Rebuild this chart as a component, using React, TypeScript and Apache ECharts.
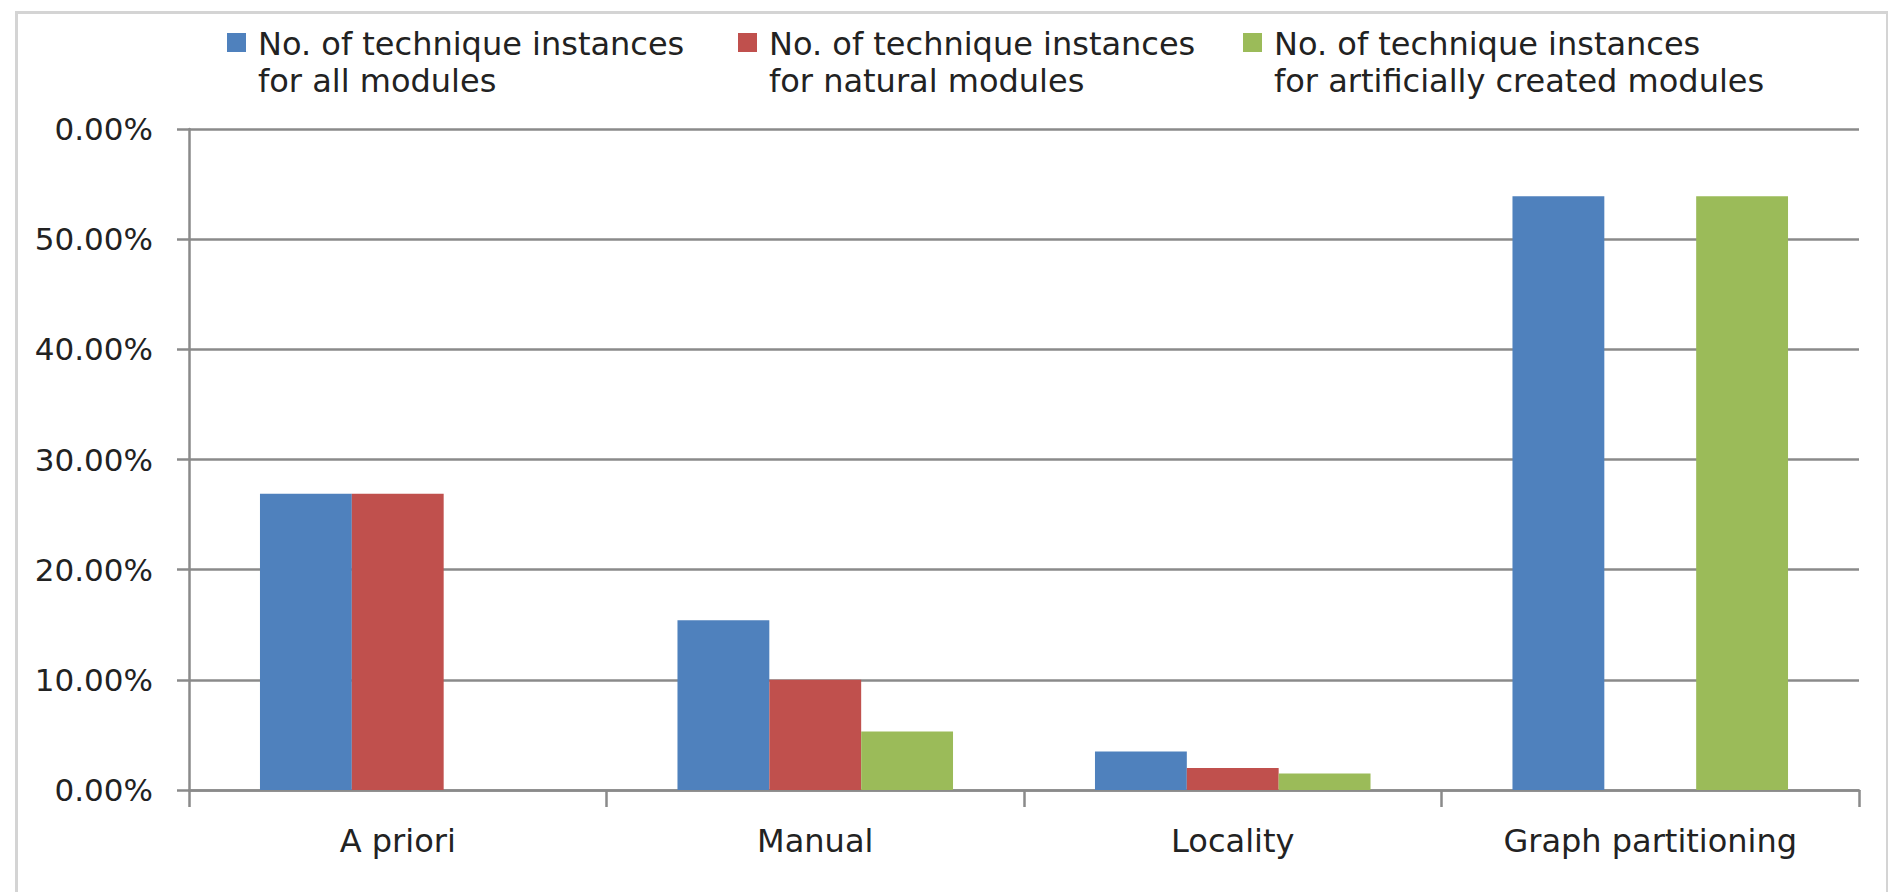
import React, { useEffect, useRef } from "react";
import * as echarts from "echarts";

// Share of technique instances per decomposition approach (percent)
const categories = ["A priori", "Manual", "Locality", "Graph partitioning"];
const allModules = [26.9, 15.4, 3.5, 53.9];
const naturalModules = [26.9, 10.0, 2.0, 0];
const artificialModules = [0, 5.3, 1.5, 53.9];

const seriesNames = [
  "No. of technique instances for all modules",
  "No. of technique instances for natural modules",
  "No. of technique instances for artificially created modules",
];
const legendLines = [
  ["No. of technique instances", "for all modules"],
  ["No. of technique instances", "for natural modules"],
  ["No. of technique instances", "for artificially created modules"],
];

// Value-axis tick labels, one per 10% step from the bottom
const yTickLabels = ["0.00%", "10.00%", "20.00%", "30.00%", "40.00%", "50.00%", "0.00%"];

const COLORS = ["#4F81BD", "#C0504D", "#9BBB59"];
const FONT = "DejaVu Sans";
const TEXT = "#222222";
const AXIS = "#8a8a8a";
const LEGEND_X = [227, 738, 1243];

export default function App() {
  const ref = useRef<HTMLDivElement>(null);

  useEffect(() => {
    document.body.style.margin = "0";
    const chart = echarts.init(ref.current!, null, { renderer: "svg" });

    const legendGraphics = legendLines.map((lines, i) => ({
      type: "group",
      left: LEGEND_X[i],
      top: 25,
      children: [
        {
          type: "rect",
          shape: { x: 0, y: 8, width: 19, height: 19 },
          style: { fill: COLORS[i] },
        },
        {
          type: "text",
          x: 31,
          y: 0,
          style: {
            text: lines.join("\n"),
            fontFamily: FONT,
            fontSize: 32,
            lineHeight: 37,
            fill: TEXT,
            verticalAlign: "top",
          },
        },
      ],
    }));

    chart.setOption({
      animation: false,
      backgroundColor: "#ffffff",
      graphic: [
        {
          type: "rect",
          left: 14,
          top: 10,
          shape: { x: 0, y: 0, width: 1871, height: 900 },
          style: { fill: "none", stroke: "#d4d4d4", lineWidth: 3 },
          silent: true,
        },
        ...legendGraphics,
      ],
      grid: { left: 189, right: 29, top: 129, bottom: 102, containLabel: false },
      xAxis: {
        type: "category",
        data: categories,
        axisLine: { show: true, lineStyle: { color: AXIS, width: 2.5 } },
        axisTick: { show: true, length: 17, interval: 0, lineStyle: { color: AXIS, width: 2.5 } },
        axisLabel: {
          interval: 0,
          margin: 35,
          fontFamily: FONT,
          fontSize: 32,
          color: TEXT,
        },
      },
      yAxis: {
        type: "value",
        min: 0,
        max: 60,
        interval: 10,
        axisLine: { show: true, lineStyle: { color: AXIS, width: 2.5 } },
        axisTick: { show: true, length: 12, lineStyle: { color: AXIS, width: 2.5 } },
        splitLine: { show: true, lineStyle: { color: AXIS, width: 2.5 } },
        axisLabel: {
          margin: 36,
          fontFamily: FONT,
          fontSize: 31,
          color: TEXT,
          formatter: (v: number) => yTickLabels[Math.round(v / 10)] ?? "",
        },
      },
      series: [allModules, naturalModules, artificialModules].map((data, i) => ({
        type: "bar",
        name: seriesNames[i],
        data,
        itemStyle: { color: COLORS[i] },
        barGap: "0%",
        barCategoryGap: "34%",
      })),
    });

    return () => chart.dispose();
  }, []);

  return <div ref={ref} style={{ width: 1888, height: 892 }} />;
}
